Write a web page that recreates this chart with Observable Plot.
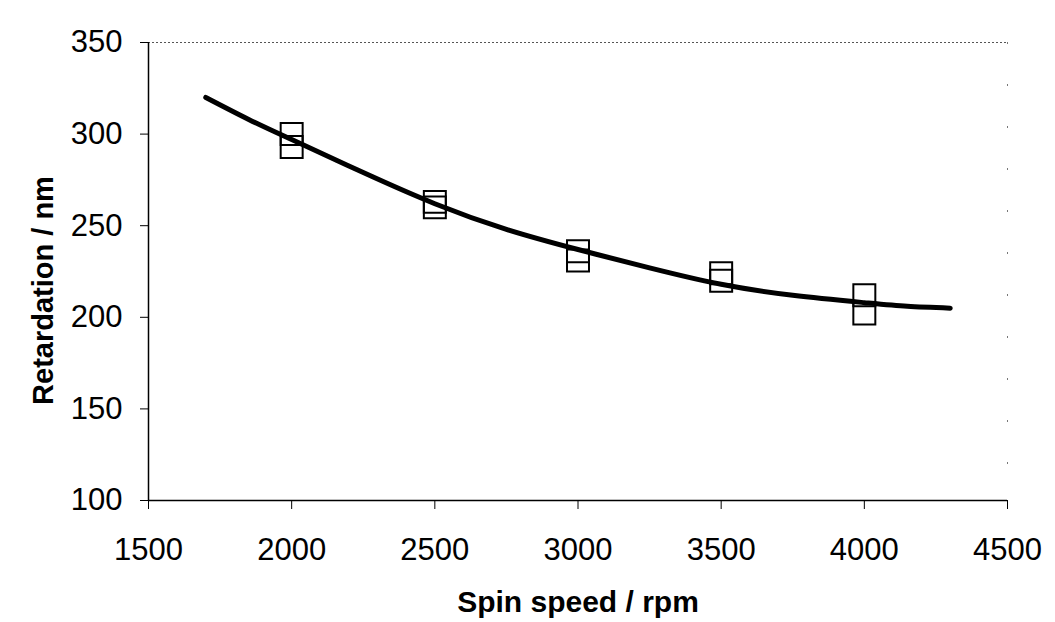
<!DOCTYPE html>
<html>
<head>
<meta charset="utf-8">
<script src="https://cdn.jsdelivr.net/npm/d3@7"></script>
<script src="https://cdn.jsdelivr.net/npm/@observablehq/plot@0.6"></script>
<style>
  html, body { margin: 0; padding: 0; background: #fff; }
  #chart svg { display: block; }
</style>
</head>
<body>
<div id="chart"></div>
<script>
// Measured data (squares)
const speedPts = [2000, 2000, 2500, 2500, 3000, 3000, 3500, 3500, 4000, 4000];
const retardPts = [300, 293, 263, 260, 236, 231, 224, 220, 212, 202];

// Fitted trend line
const fitSpeed = [1700, 1850, 2000, 2250, 2500, 2750, 3000, 3250, 3500, 3750, 4000, 4150, 4300];
const fitRetard = [320, 308, 297, 279, 262, 248, 237, 227, 218, 212, 208, 206, 205];

const xTicks = [1500, 2000, 2500, 3000, 3500, 4000, 4500];
const yTicks = [100, 150, 200, 250, 300, 350];

const pts = speedPts.map((s, i) => ({speed: s, ret: retardPts[i]}));
const fit = fitSpeed.map((s, i) => ({speed: s, ret: fitRetard[i]}));

const font = "Arial, 'Liberation Sans', sans-serif";

const chart = Plot.plot({
  width: 1055,
  height: 622,
  marginLeft: 148,
  marginRight: 48,
  marginTop: 42,
  marginBottom: 122,
  style: {fontFamily: font, color: "#000", background: "#fff"},
  x: {domain: [1500, 4500]},
  y: {domain: [100, 350]},
  marks: [
    Plot.ruleY([350], {stroke: "#555", strokeDasharray: "2,2", strokeWidth: 1}),
    Plot.ruleX([4500], {stroke: "#777", strokeDasharray: "2,40", strokeWidth: 1}),
    Plot.ruleX([1500], {stroke: "#000", strokeWidth: 1.5}),
    Plot.ruleY([100], {stroke: "#000", strokeWidth: 1.5}),
    Plot.axisX({ticks: xTicks, tickSize: 9, tickPadding: 28, fontSize: 31, tickFormat: d => String(d),
      label: null, style: {letterSpacing: "-1px"}}),
    Plot.axisY({ticks: yTicks, tickSize: 8, tickPadding: 18, fontSize: 31, tickFormat: d => String(d),
      label: null, style: {letterSpacing: "-1px"}}),
    Plot.text(["Spin speed / rpm"], {frameAnchor: "bottom", dy: 102, textAnchor: "middle", lineAnchor: "middle",
      fontSize: 30, fontWeight: "bold", fill: "#000"}),
    Plot.text(["Retardation / nm"], {frameAnchor: "left", dx: -105, dy: 19, rotate: -90, textAnchor: "middle", lineAnchor: "middle",
      fontSize: 29, fontWeight: "bold", fill: "#000"}),
    Plot.line(fit, {x: "speed", y: "ret", curve: "natural", stroke: "#000", strokeWidth: 5}),
    Plot.dot(pts, {x: "speed", y: "ret", symbol: "square", r: 12.4, stroke: "#000", strokeWidth: 2, fill: "none"})
  ]
});

document.getElementById("chart").appendChild(chart);
</script>
</body>
</html>
